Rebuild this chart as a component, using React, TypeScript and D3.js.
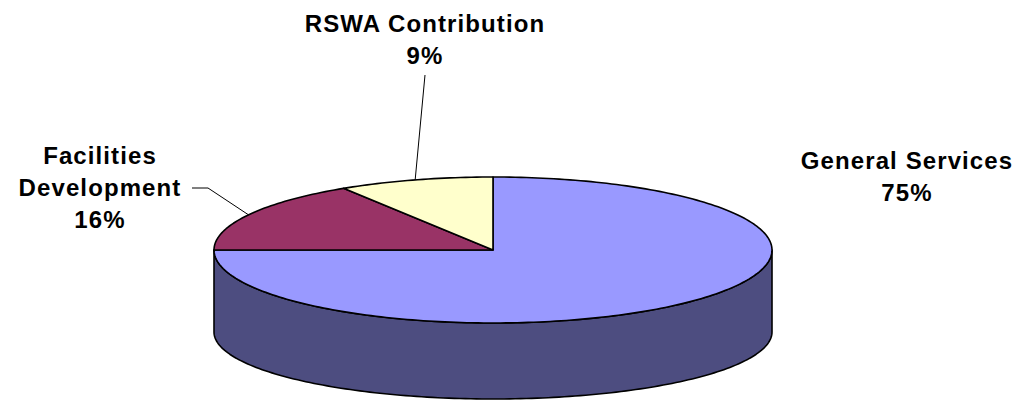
import React, { useEffect, useRef } from 'react';
import * as d3 from 'd3';

const categories = ['General Services', 'Facilities Development', 'RSWA Contribution'];
const shares = [75, 16, 9];
const labelLines = [['General Services', '75%'], ['Facilities', 'Development', '16%'], ['RSWA Contribution', '9%']];

const topColors = ['#9999FF', '#993366', '#FFFFCC'];
const sideColors = ['#4D4D80', '#4D1A33', '#808066'];

const W = 1023;
const H = 401;

const App: React.FC = () => {
    const svgRef = useRef<SVGSVGElement>(null);

    useEffect(() => {
        if (!svgRef.current) return;
        const svg = d3.select(svgRef.current);
        svg.selectAll('*').remove();

        const cx = 493, cy = 250, rx = 279, ry = 73;
        const cyB = 332, ryB = 67;

        const top = (a: number): [number, number] => [cx + rx * Math.sin(a), cy - ry * Math.cos(a)];
        const bot = (a: number): [number, number] => [cx + rx * Math.sin(a), cyB - ryB * Math.cos(a)];

        const pie = d3.pie<number>().sort(null).value(d => d).startAngle(0).endAngle(2 * Math.PI);
        const arcs = pie(shares);
        const line = d3.line();

        const steps = (a0: number, a1: number) => {
            const n = Math.max(2, Math.ceil((a1 - a0) / 0.02));
            return d3.range(n + 1).map(i => a0 + (a1 - a0) * i / n);
        };

        // side wall, only the front half is visible
        arcs.forEach((d, i) => {
            const a0 = Math.max(d.startAngle, Math.PI / 2);
            const a1 = Math.min(d.endAngle, Math.PI * 1.5);
            if (a1 <= a0) return;
            const pts = steps(a0, a1);
            const ring = [...pts.map(top), ...pts.slice().reverse().map(bot)];
            svg.append('path')
                .attr('d', line(ring) + 'Z')
                .attr('fill', sideColors[i])
                .attr('stroke', '#000')
                .attr('stroke-width', 1.6)
                .attr('stroke-linejoin', 'round');
        });

        // top face
        arcs.forEach((d, i) => {
            const pts = steps(d.startAngle, d.endAngle).map(top);
            svg.append('path')
                .attr('d', line([[cx, cy], ...pts]) + 'Z')
                .attr('fill', topColors[i])
                .attr('stroke', '#000')
                .attr('stroke-width', 1.6)
                .attr('stroke-linejoin', 'round');
        });

        const labelPos: { x: number; y: number; lead?: [number, number][] }[] = [
            { x: 907, y: 169 },
            { x: 100, y: 164, lead: [[192, 188], [208, 188]] },
            { x: 425, y: 32, lead: [[425, 75]] },
        ];

        arcs.forEach((d, i) => {
            const p = labelPos[i];
            if (p.lead) {
                const mid = (d.startAngle + d.endAngle) / 2;
                svg.append('path')
                    .attr('d', line([...p.lead, top(mid)]))
                    .attr('fill', 'none')
                    .attr('stroke', '#000')
                    .attr('stroke-width', 1);
            }
            const t = svg.append('text')
                .attr('text-anchor', 'middle')
                .attr('font-family', '"Liberation Sans", Arial, sans-serif')
                .attr('font-weight', 'bold')
                .attr('font-size', 24)
                .attr('letter-spacing', 1.1)
                .attr('fill', '#000');
            labelLines[i].forEach((s, k) => {
                t.append('tspan').attr('x', p.x).attr('y', p.y + k * 32).text(s);
            });
        });
    }, []);

    return (
        <svg ref={svgRef} width={W} height={H}
            style={{ position: 'fixed', left: 0, top: 0, background: '#fff' }}
            aria-label={categories.join(', ')} />
    );
};

export default App;
